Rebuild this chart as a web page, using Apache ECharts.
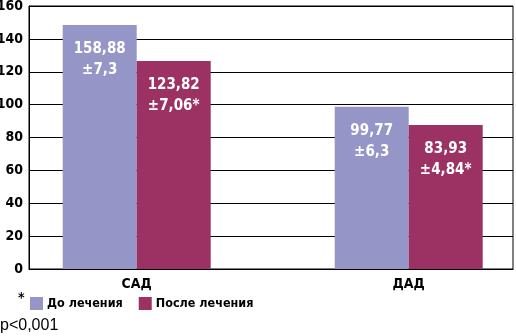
<!DOCTYPE html>
<html>
<head>
<meta charset="utf-8">
<script src="https://cdn.jsdelivr.net/npm/echarts@6/dist/echarts.min.js"></script>
<style>
  html, body { margin: 0; padding: 0; background: #fff; }
  #chart { width: 516px; height: 336px; }
</style>
</head>
<body>
<div id="chart"></div>
<script>
var categories = ['САД', 'ДАД'];
var seriesNames = ['До лечения', 'После лечения'];
// bar heights as drawn in the picture
var beforeValues = [148.5, 98.7];
var afterValues = [126.6, 87.6];
// texts printed inside the bars
var beforeLabels = ['158,88\n±7,3', '99,77\n±6,3'];
var afterLabels = ['123,82\n±7,06*', '83,93\n±4,84*'];
var yTicks = [0, 20, 40, 60, 80, 100, 120, 140, 160];

var font = '"DejaVu Sans Condensed", "Liberation Sans", sans-serif';
var myChart = echarts.init(document.getElementById('chart'));

var labelStyle = function(texts) {
  return {
    show: true,
    position: 'insideTop',
    distance: 14,
    color: '#fff',
    fontFamily: font,
    fontWeight: 'bold',
    fontSize: 15,
    lineHeight: 21,
    formatter: function(p) { return texts[p.dataIndex]; }
  };
};

var option = {
  animation: false,
  backgroundColor: '#fff',
  grid: [
    { left: 29, right: 3, top: 6, bottom: 67, show: true, borderColor: '#000', borderWidth: 1,
      outerBoundsMode: 'none', containLabel: false },
    // wider grid so both groups sit where they do in the original
    { left: 0.7, right: -28.7, top: 6, bottom: 67, outerBoundsMode: 'none', containLabel: false }
  ],
  legend: {
    data: seriesNames,
    left: 30,
    top: 297,
    padding: 0,
    itemWidth: 13,
    itemHeight: 13,
    itemGap: 16,
    icon: 'rect',
    textStyle: { fontFamily: font, fontWeight: 'bold', fontSize: 12.5, color: '#000', padding: [0, 0, 0, -1] }
  },
  xAxis: [
    { gridIndex: 0, type: 'category', data: categories, show: true,
      axisLine: { lineStyle: { color: '#000', width: 1 } },
      axisTick: { show: false }, axisLabel: { show: false } },
    { gridIndex: 1, type: 'category', data: categories,
      axisLine: { show: false }, axisTick: { show: false },
      axisLabel: { margin: 8, color: '#000', fontFamily: font, fontWeight: 'bold', fontSize: 14 } }
  ],
  yAxis: [
    { gridIndex: 0, type: 'value', min: 0, max: 160, interval: 20,
      axisLine: { show: true, lineStyle: { color: '#000', width: 1 } },
      axisTick: { show: false },
      splitLine: { lineStyle: { color: '#000', width: 1 } },
      axisLabel: { margin: 6, color: '#000', fontFamily: font, fontWeight: 'bold', fontSize: 14,
        formatter: function(v) { return yTicks.indexOf(v) >= 0 ? String(v) : ''; } } },
    { gridIndex: 1, type: 'value', min: 0, max: 160, interval: 20, show: false,
      splitLine: { show: false } }
  ],
  series: [
    { name: seriesNames[0], type: 'bar', xAxisIndex: 1, yAxisIndex: 1,
      data: beforeValues, barWidth: 74, barGap: '0%',
      itemStyle: { color: '#9595c8' }, label: labelStyle(beforeLabels) },
    { name: seriesNames[1], type: 'bar', xAxisIndex: 1, yAxisIndex: 1,
      data: afterValues, barWidth: 74, barGap: '0%',
      itemStyle: { color: '#9c3264' }, label: labelStyle(afterLabels) }
  ],
  graphic: [
    { type: 'text', left: 18, top: 291,
      style: { text: '*', fill: '#000', font: 'bold 14px ' + font } },
    { type: 'text', left: 0, top: 318,
      style: { text: 'p<0,001', fill: '#000', font: '16px "Liberation Sans", sans-serif' } }
  ]
};

myChart.setOption(option);
</script>
</body>
</html>
